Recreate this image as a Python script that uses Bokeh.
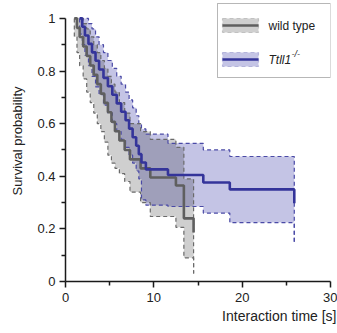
import numpy as np
from bokeh.plotting import figure
from bokeh.models import Range1d, FixedTicker, NumeralTickFormatter, Label, BoxAnnotation
from bokeh.embed import file_html
from bokeh.resources import INLINE

# ---- data ----
# wild type: event times, survival after each time, lower/upper confidence bounds
wt_t  = [1.0, 1.3, 1.6, 2.0, 2.4, 2.8, 3.2, 3.6, 4.0, 4.4, 4.8, 5.2, 5.6, 6.1, 6.7, 7.3, 8.5, 9.6, 12.5, 13.4, 14.5]
wt_s  = [1.0, .964, .929, .893, .857, .821, .786, .75, .714, .679, .643, .607, .571, .536, .50, .464, .43, .395, .365, .24, .186]
wt_lo = [.93, .87, .82, .77, .72, .68, .64, .60, .57, .53, .48, .45, .43, .41, .38, .34, .30, .247, .206, .09, .03]
wt_hi = [1.0, 1.0, 1.0, .98, .96, .93, .90, .87, .84, .81, .78, .75, .72, .68, .64, .60, .57, .54, .51, .39, .03]

# Ttll1 -/-
ko_t  = [1.6, 1.9, 2.2, 2.6, 3.0, 3.4, 3.8, 4.3, 4.8, 5.3, 5.8, 6.3, 6.8, 7.2, 7.6, 8.0, 8.3, 8.6, 9.1, 11.6, 15.6, 18.6, 25.9]
ko_s  = [1.0, .968, .935, .903, .871, .839, .806, .774, .742, .71, .677, .645, .613, .581, .548, .516, .484, .452, .426, .405, .376, .35, .297]
ko_lo = [.94, .90, .86, .82, .78, .74, .71, .67, .64, .60, .57, .54, .51, .48, .45, .42, .39, .31, .29, .285, .26, .224, .148]
ko_hi = [1.0, 1.0, 1.0, .98, .96, .93, .90, .87, .84, .81, .78, .75, .72, .69, .66, .63, .60, .58, .56, .525, .50, .475, .148]

x_ticks = [0, 10, 20, 30]
x_minor = [5, 15, 25]
y_ticks = [0, 0.2, 0.4, 0.6, 0.8, 1]
y_minor = [0.1, 0.3, 0.5, 0.7, 0.9]

FONT = "Liberation Sans"
GREY_LINE = "#5f5f5f"
GREY_DASH = "#6a6a6a"
BLUE_LINE = "#34349a"
BLUE_DASH = "#4a4aa6"


def band_xy(t, lo, hi):
    t = np.asarray(t, float)
    xs = np.repeat(t, 2)[1:-1]
    return xs, np.repeat(np.asarray(lo, float)[:-1], 2), np.repeat(np.asarray(hi, float)[:-1], 2)


p = figure(width=337, height=333, output_backend="svg", toolbar_location=None,
           x_range=Range1d(0, 30), y_range=Range1d(0, 1.068),
           title="Interaction time [s]", title_location="below",
           min_border_left=65, min_border_right=7, min_border_top=0, min_border_bottom=52)
p.outline_line_color = None
p.xgrid.grid_line_color = None
p.ygrid.grid_line_color = None
p.background_fill_color = "white"
p.border_fill_color = "white"

# x-axis title (as a right-aligned title below the axis)
p.title.align = "right"
p.title.offset = -6
p.title.standoff = 2
p.title.text_font = FONT
p.title.text_font_size = "14px"
p.title.text_font_style = "normal"
p.title.text_color = "#222222"

# bands
bx, blo, bhi = band_xy(ko_t, ko_lo, ko_hi)
p.varea(x=bx, y1=blo, y2=bhi, fill_color="#3c3caa", fill_alpha=0.30)
gx, glo, ghi = band_xy(wt_t, wt_lo, wt_hi)
p.varea(x=gx, y1=glo, y2=ghi, fill_color="#000000", fill_alpha=0.19)

# dashed band boundaries
for t, lo, hi, col in ((ko_t, ko_lo, ko_hi, BLUE_DASH), (wt_t, wt_lo, wt_hi, GREY_DASH)):
    p.step(x=[t[0]] + list(t), y=[hi[0]] + list(lo), mode="after",
           line_color=col, line_width=1.2, line_dash="4 3")
    p.step(x=t, y=hi, mode="after", line_color=col, line_width=1.2, line_dash="4 3")

# survival curves
p.step(x=wt_t, y=wt_s, mode="after", line_color=GREY_LINE, line_width=2.6)
p.step(x=ko_t, y=ko_s, mode="after", line_color=BLUE_LINE, line_width=2.6)

# axes
for ax in (p.xaxis[0], p.yaxis[0]):
    ax.axis_line_color = "#1a1a1a"
    ax.axis_line_width = 1.5
    ax.major_tick_line_color = "#1a1a1a"
    ax.major_tick_line_width = 1.5
    ax.minor_tick_line_color = "#1a1a1a"
    ax.minor_tick_line_width = 1.5
    ax.major_tick_in = 0
    ax.major_tick_out = 6
    ax.minor_tick_in = 0
    ax.minor_tick_out = 4
    ax.major_label_text_font = FONT
    ax.major_label_text_font_size = "13px"
    ax.major_label_text_color = "#222222"
    ax.axis_label_text_font = FONT
    ax.axis_label_text_font_style = "normal"
    ax.axis_label_text_color = "#222222"

p.xaxis[0].ticker = FixedTicker(ticks=x_ticks, minor_ticks=x_minor)
p.yaxis[0].ticker = FixedTicker(ticks=y_ticks, minor_ticks=y_minor)
p.yaxis[0].formatter = NumeralTickFormatter(format="0.[0]")
p.yaxis[0].bounds = (0, 1)
p.xaxis[0].major_label_standoff = 5
p.yaxis[0].major_label_standoff = 4
p.yaxis[0].axis_label = "Survival probability"
p.yaxis[0].axis_label_text_font_size = "13px"
p.yaxis[0].axis_label_standoff = 9

# ---- legend (drawn by hand, screen units relative to the frame) ----
def sbox(l, r, b, t, **kw):
    p.add_layout(BoxAnnotation(left=l, right=r, bottom=b, top=t,
                               left_units="screen", right_units="screen",
                               bottom_units="screen", top_units="screen", **kw))

sbox(152, 265, 204, 278, fill_color="white", fill_alpha=1, line_color="#111111", line_width=1)
sbox(157, 193, 249, 263, fill_color="#000000", fill_alpha=0.19, line_color=GREY_DASH,
     line_width=1.2, line_dash="4 3")
sbox(157, 193, 254.7, 257.3, fill_color=GREY_LINE, fill_alpha=1, line_color=None)
sbox(157, 193, 215, 229, fill_color="#3c3caa", fill_alpha=0.30, line_color=BLUE_DASH,
     line_width=1.2, line_dash="4 3")
sbox(157, 193, 220.7, 223.3, fill_color=BLUE_LINE, fill_alpha=1, line_color=None)

p.add_layout(Label(x=203, y=256, x_units="screen", y_units="screen", text="wild type",
                   text_font=FONT, text_font_size="12px", text_color="#222222",
                   text_baseline="middle", text_align="left"))
p.add_layout(Label(x=203, y=222, x_units="screen", y_units="screen", text="Ttll1",
                   text_font=FONT, text_font_size="12px", text_font_style="italic",
                   text_color="#222222", text_baseline="middle", text_align="left"))
p.add_layout(Label(x=226, y=228, x_units="screen", y_units="screen", text="-/-",
                   text_font=FONT, text_font_size="9px", text_font_style="italic",
                   text_color="#222222", text_baseline="middle", text_align="left"))

open("out.html", "w").write(file_html(p, INLINE))
